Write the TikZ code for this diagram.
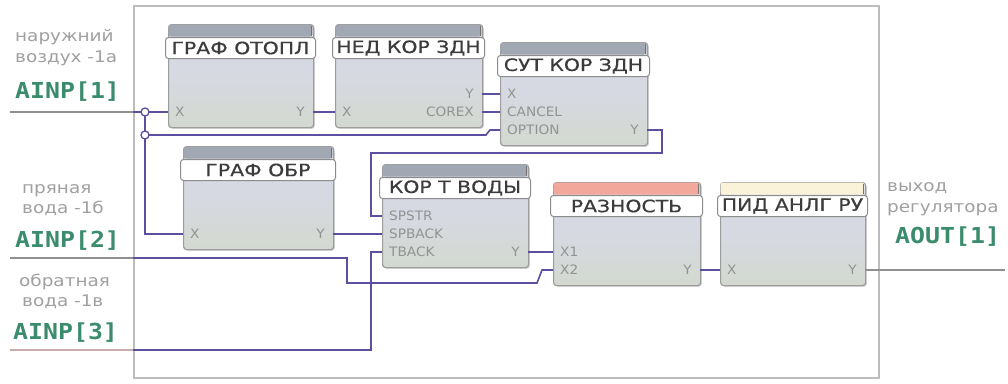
\documentclass[tikz,border=0pt]{standalone}
\usepackage{fontspec}
\setmainfont{DejaVu Sans}
\newfontfamily\lblfont[FakeStretch=1.15]{DejaVu Sans}
\newfontfamily\ttlfont[FakeStretch=1.2,FakeBold=0.5]{DejaVu Sans}
\newfontfamily\prtfont[FakeStretch=1.05]{DejaVu Sans}
\newfontfamily\inpfont[FakeStretch=1.13]{DejaVu Sans Mono}
\usetikzlibrary{calc,shadows}
\definecolor{wirec}{HTML}{5B50A0}
\definecolor{framec}{HTML}{BDBDBD}
\definecolor{bodyc}{HTML}{D6D9E1}
\definecolor{bodyg}{HTML}{D3D9D0}
\definecolor{bodyb}{HTML}{9C9C9C}
\definecolor{barc}{HTML}{A2A8B3}
\definecolor{salmonc}{HTML}{F2A99B}
\definecolor{creamc}{HTML}{FBF3D9}
\definecolor{ttlb}{HTML}{8C8C8C}
\definecolor{ttlt}{HTML}{3C3C3C}
\definecolor{prtc}{HTML}{929292}
\definecolor{greyt}{HTML}{A0A0A0}
\definecolor{greent}{HTML}{3A8C6C}
\definecolor{inc}{HTML}{8F8F8F}
\tikzset{
  blkbody/.style={draw=bodyb, top color=bodyc, bottom color=bodyg, middle color=bodyc, line width=1.2pt, rounded corners=3pt, minimum height=103pt, inner sep=0pt,
    drop shadow={shadow xshift=1.2pt, shadow yshift=-1.2pt, opacity=0.35}},
  ttlbox/.style={draw=ttlb, fill=white, line width=1pt, rounded corners=3pt, minimum height=21pt, inner sep=0pt,
    text=ttlt, font=\ttlfont\fontsize{17}{17}\selectfont},
  prt/.style={text=prtc, inner sep=0pt, text height=9.5pt, text depth=0pt, font=\prtfont\fontsize{13}{13}\selectfont},
  wire/.style={draw=wirec, line width=1.6pt},
  inline/.style={draw=inc, line width=1.6pt},
  outline/.style={draw=inc, line width=1.2pt},
  junc/.style={circle, draw=wirec, fill=white, line width=1.3pt, minimum size=8pt, inner sep=0pt},
  glbl/.style={text=greyt, inner sep=0pt, anchor=west, text height=11pt, text depth=3pt, font=\lblfont\fontsize{16}{16}\selectfont},
  inp/.style={text=greent, inner sep=0pt, anchor=west, text height=16pt, text depth=0pt, font=\inpfont\bfseries\fontsize{22}{22}\selectfont},
  framebox/.style={draw=framec, line width=1.5pt},
}
\newcommand\fblk[6]{%
  \pgfmathsetmacro\bw{#4-#2}%
  \node[blkbody, minimum width=\bw pt, anchor=north west] (#1) at (#2,#3) {};
  \fill[#6, rounded corners=2.5pt] (#2+0.6,#3+0.6) rectangle (#4-0.6,#3+12.5);
  \draw[black!55, line width=1pt] (#4-1.3,#3+1.5) -- (#4-1.3,#3+12);
  \node[ttlbox, minimum width=\bw pt+5pt] (#1-t) at (#2+\bw/2,#3+24) {#5};
  \coordinate (#1-L1) at (#2,#3+52);
  \coordinate (#1-L2) at (#2,#3+70);
  \coordinate (#1-L3) at (#2,#3+88);
  \coordinate (#1-R2) at (#4,#3+70);
  \coordinate (#1-R3) at (#4,#3+88);
}
\newcommand\pl[3]{\node[prt, anchor=west] (#1) at ($(#2)+(7,0)$) {#3};}
\newcommand\pr[3]{\node[prt, anchor=east] (#1) at ($(#2)+(-8,0)$) {#3};}
\begin{document}
\begin{tikzpicture}[x=1pt,y=-1pt]
\useasboundingbox (0,0) rectangle (1008,383);
\fill[white] (0,0) rectangle (1008,383);
% frame
\node[framebox, minimum width=745pt, minimum height=372pt, anchor=north west, inner sep=0pt] (frame) at (133,5) {};
% terminal coordinates
\coordinate (in1) at (10,112); \coordinate (in1f) at (133,112);
\coordinate (in2) at (10,258); \coordinate (in2f) at (133,258);
\coordinate (in3) at (10,350); \coordinate (in3f) at (133,350);
\coordinate (out) at (1005,270);
\coordinate (j1) at (145,112); \coordinate (j2) at (145,135);
% input lines outside frame
\draw[inline] (in1) -- (in1f);
\draw[inline] (in2) -- (in2f);
\draw[inline, draw=inc!80!red!60] (in3) -- (in3f);
% blocks
\fblk{g1}{168}{24}{313}{ГРАФ ОТОПЛ}{barc}
\fblk{g2}{335}{24}{482}{НЕД КОР ЗДН}{barc}
\fblk{g3}{500}{42}{647}{СУТ КОР ЗДН}{barc}
\fblk{g4}{183}{146}{333}{ГРАФ ОБР}{barc}
\fblk{g5}{382}{164}{528}{КОР Т ВОДЫ}{barc}
\fblk{g6}{553}{182}{700}{РАЗНОСТЬ}{salmonc}
\fblk{g7}{720}{182}{865}{ПИД АНЛГ РУ}{creamc}
% port labels
\pl{p1x}{g1-L3}{X} \pr{p1y}{g1-R3}{Y}
\pl{p2x}{g2-L3}{X} \pr{p2y}{g2-R2}{Y} \pr{p2c}{g2-R3}{COREX}
\pl{p3x}{g3-L1}{X} \pl{p3c}{g3-L2}{CANCEL} \pl{p3o}{g3-L3}{OPTION} \pr{p3y}{g3-R3}{Y}
\pl{p4x}{g4-L3}{X} \pr{p4y}{g4-R3}{Y}
\pl{p5a}{g5-L1}{SPSTR} \pl{p5b}{g5-L2}{SPBACK} \pl{p5c}{g5-L3}{TBACK} \pr{p5y}{g5-R3}{Y}
\pl{p6a}{g6-L2}{X1} \pl{p6b}{g6-L3}{X2} \pr{p6y}{g6-R3}{Y}
\pl{p7x}{g7-L3}{X} \pr{p7y}{g7-R3}{Y}
% wires
\draw[wire] (in1f) -- (j1) -- (g1-L3);
\draw[wire] (j1) -- (j2) |- (g4-L3);
\draw[wire] (j2) -- (486,135) -- (490,130) -- (g3-L3);
\draw[wire] (g1-R3) -- (g2-L3);
\draw[wire] (g2-R2) -- (g3-L1);
\draw[wire] (g2-R3) -- (g3-L2);
\draw[wire] (g3-R3) -- ++(15,0) |- (371,153) |- (g5-L1);
\draw[wire] (g4-R3) -- (g5-L2);
\draw[wire] (in2f) -| (347,283) -- (537,283) -- (542,270) -- (g6-L3);
\draw[wire] (in3f) -- (371,350) |- (g5-L3);
\draw[wire] (g5-R3) -- (g6-L2);
\draw[wire] (g6-R3) -- (g7-L3);
\draw[outline] (g7-R3) -- (out);
% junctions
\node[junc] (jc1) at (j1) {};
\node[junc] (jc2) at (j2) {};
% side labels
\node[glbl] (l1a) at (15,37) {наружний};
\node[glbl] (l1b) at (15,58) {воздух -1а};
\node[inp] (l1c) at (15,90) {AINP[1]};
\node[glbl] (l2a) at (22,189) {пряная};
\node[glbl] (l2b) at (22,209) {вода -1б};
\node[inp] (l2c) at (15,239) {AINP[2]};
\node[glbl] (l3a) at (19,282) {обратная};
\node[glbl] (l3b) at (22,302) {вода -1в};
\node[inp] (l3c) at (13,331) {AINP[3]};
\node[glbl] (r1a) at (887,187) {выход};
\node[glbl] (r1b) at (887,208) {регулятора};
\node[inp] (r1c) at (895,235) {AOUT[1]};
\end{tikzpicture}
\end{document}
